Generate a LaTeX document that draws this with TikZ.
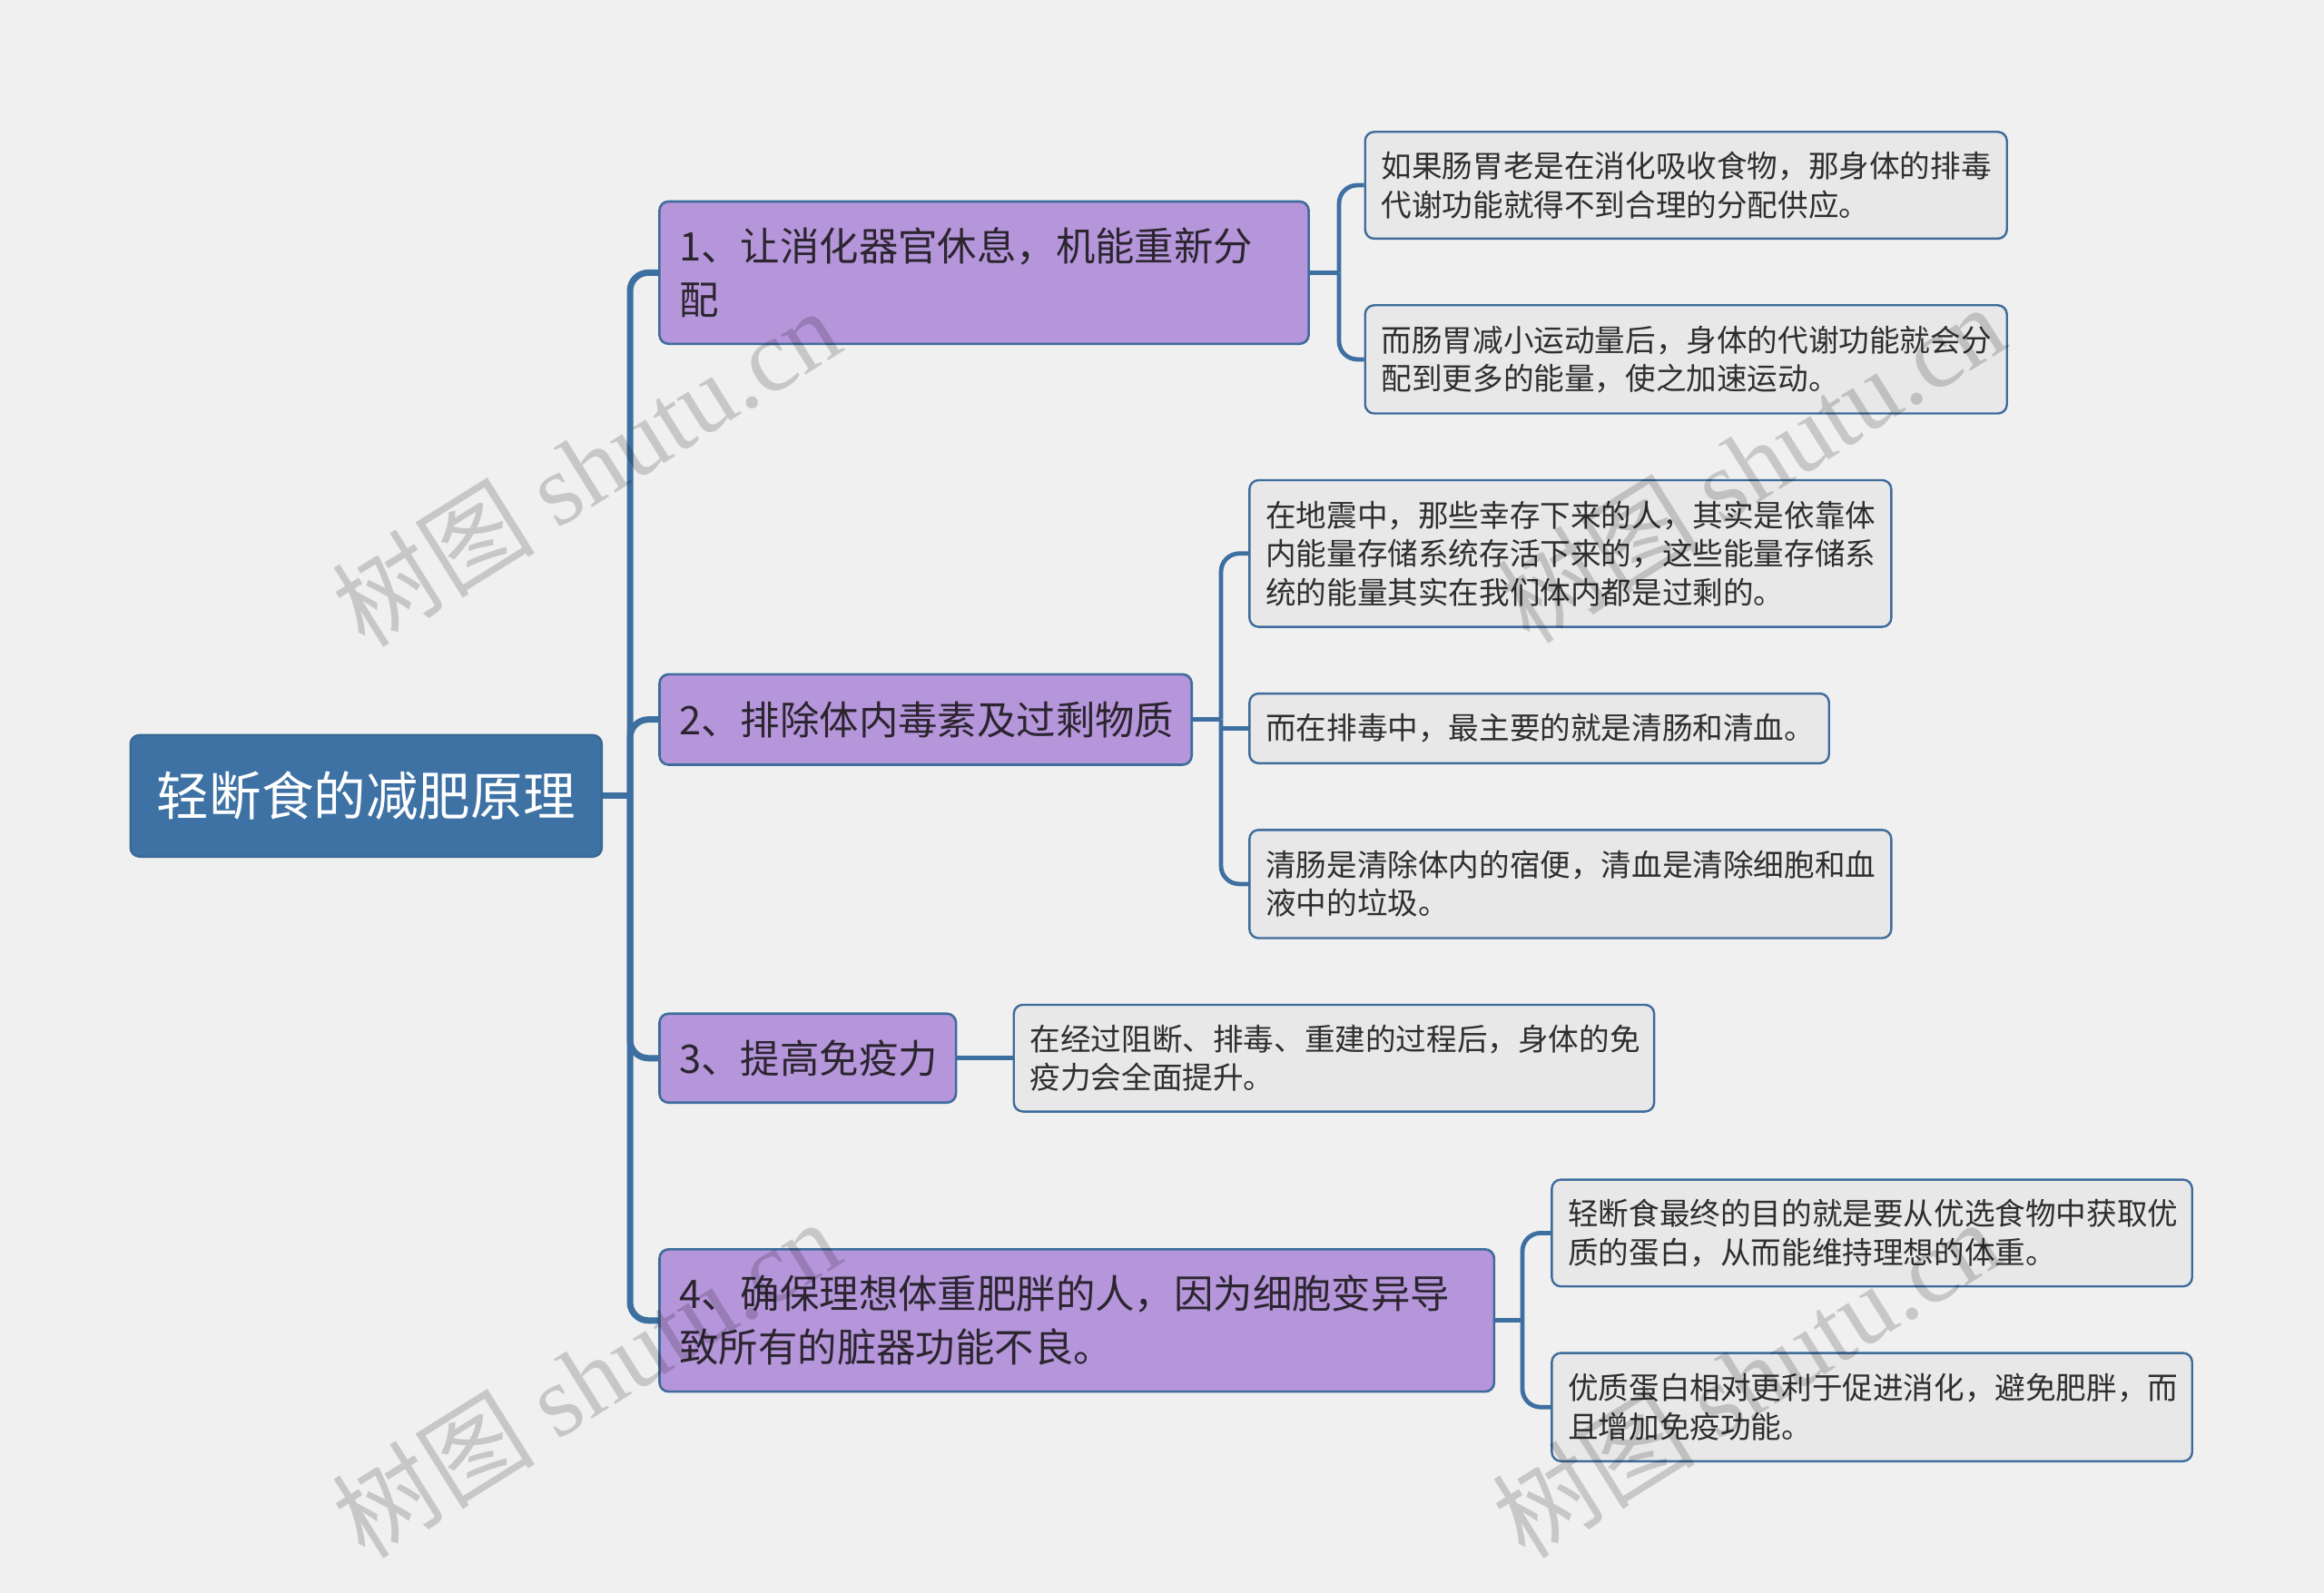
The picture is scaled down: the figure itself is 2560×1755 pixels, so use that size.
\documentclass[tikz,border=0pt]{standalone}
\usepackage{fontspec}
\setmainfont{Noto Sans CJK SC}
\newfontfamily\wmlatin{Liberation Serif}
\usetikzlibrary{calc}

\definecolor{bgc}{HTML}{F0F0F0}
\definecolor{rootfill}{HTML}{3E72A4}
\definecolor{rootdraw}{HTML}{386896}
\definecolor{purp}{HTML}{B696DA}
\definecolor{nodedraw}{HTML}{3E6C9C}
\definecolor{leaffill}{HTML}{E8E8E8}
\definecolor{conn}{HTML}{3D6FA1}
\definecolor{txtone}{HTML}{2B2530}
\definecolor{txttwo}{HTML}{2E2E2E}

\tikzset{
  rootbox/.style={draw=rootdraw, fill=rootfill, line width=1.2pt, rounded corners=5pt,
    text=white, font=\fontsize{28.8pt}{34pt}\selectfont, inner sep=0pt, align=center},
  topicbox/.style={draw=nodedraw, fill=purp, line width=1.3pt, rounded corners=5pt,
    text=txtone, font=\fontsize{21.7pt}{29.4pt}\selectfont, inner xsep=11pt, inner ysep=0pt, align=left},
  leafbox/.style={draw=nodedraw, fill=leaffill, line width=1.2pt, rounded corners=5pt,
    text=txttwo, font=\fontsize{16.8pt}{21.2pt}\selectfont, inner xsep=9pt, inner ysep=0pt, align=left},
  wireone/.style={draw=conn, line width=3.5pt},
  wiretwo/.style={draw=conn, line width=2.4pt},
  wm/.style={text=black, text opacity=0.17, rotate=32, inner sep=0pt,
    font=\fontsize{56pt}{60pt}\selectfont}
}

\begin{document}
\begin{tikzpicture}[x=0.5pt,y=-0.5pt]
\fill[bgc] (0,0) rectangle (2560,1755);
\useasboundingbox (0,0) rectangle (2560,1755);

% branch x positions
\coordinate (t0) at (694,0);
\coordinate (b1) at (1475,0);
\coordinate (b2) at (1345,0);
\coordinate (b4) at (1677,0);

% root
\node[rootbox, minimum width=259.6pt, minimum height=67pt] (root) at (403.3,876.8) {轻断食的减肥原理};

% level 1
\node[topicbox, minimum height=78.4pt, text width=335.6pt] (n1) at (1084,300.4) {1、让消化器官休息，机能重新分\\配};
\node[topicbox, minimum height=49.8pt, text width=271.1pt] (n2) at (1019.6,792.7) {2、排除体内毒素及过剩物质};
\node[topicbox, minimum height=49pt, text width=141.3pt] (n3) at (889.75,1165.75) {3、提高免疫力};
\node[topicbox, minimum height=78.4pt, text width=437.7pt] (n4) at (1186.15,1454.75) {4、确保理想体重肥胖的人，因为细胞变异导\\致所有的脏器功能不良。};

% level 2
\node[leafbox, minimum height=58.8pt, text width=335.5pt] (l1a) at (1857.2,204.1) {如果肠胃老是在消化吸收食物，那身体的排毒\\代谢功能就得不到合理的分配供应。};
\node[leafbox, minimum height=59.6pt, text width=335.5pt] (l1b) at (1857.2,395.9) {而肠胃减小运动量后，身体的代谢功能就会分\\配到更多的能量，使之加速运动。};
\node[leafbox, minimum height=80.8pt, text width=335.5pt] (l2a) at (1729.85,609.8) {在地震中，那些幸存下来的人，其实是依靠体\\内能量存储系统存活下来的，这些能量存储系\\统的能量其实在我们体内都是过剩的。};
\node[leafbox, minimum height=38.4pt, text width=301.2pt] (l2b) at (1695.55,802.45) {而在排毒中，最主要的就是清肠和清血。};
\node[leafbox, minimum height=59.6pt, text width=335.5pt] (l2c) at (1729.85,973.9) {清肠是清除体内的宿便，清血是清除细胞和血\\液中的垃圾。};
\node[leafbox, minimum height=58.8pt, text width=334.7pt] (l3a) at (1469.45,1165.75) {在经过阻断、排毒、重建的过程后，身体的免\\疫力会全面提升。};
\node[leafbox, minimum height=58.8pt, text width=334.7pt] (l4a) at (2062.05,1358.4) {轻断食最终的目的就是要从优选食物中获取优\\质的蛋白，从而能维持理想的体重。};
\node[leafbox, minimum height=59.6pt, text width=334.7pt] (l4b) at (2062.05,1550.2) {优质蛋白相对更利于促进消化，避免肥胖，而\\且增加免疫功能。};

% root connectors
\draw[wireone] (root.east) -- (root.east -| t0);
\foreach \n in {n1,n2,n3,n4}{
  \draw[wireone, rounded corners=10pt] (root.east -| t0) |- (\n.west);
}

% n1 connectors
\draw[wiretwo] (n1.east) -- (n1.east -| b1);
\draw[wiretwo, rounded corners=10pt] (n1.east -| b1) |- (l1a.west);
\draw[wiretwo, rounded corners=10pt] (n1.east -| b1) |- (l1b.west);

% n2 connectors
\draw[wiretwo] (n2.east) -- (n2.east -| b2);
\draw[wiretwo, rounded corners=10pt] (n2.east -| b2) |- (l2a.west);
\draw[wiretwo, rounded corners=10pt] (n2.east -| b2) |- (l2c.west);
\draw[wiretwo] (l2b.west -| b2) -- (l2b.west);

% n3 connector
\draw[wiretwo] (n3.east) -- (l3a.west);

% n4 connectors
\draw[wiretwo] (n4.east) -- (n4.east -| b4);
\draw[wiretwo, rounded corners=10pt] (n4.east -| b4) |- (l4a.west);
\draw[wiretwo, rounded corners=10pt] (n4.east -| b4) |- (l4b.west);

% watermarks
\node[wm] (wm1) at (645,514) {树图 {\wmlatin shutu.cn}};
\node[wm] (wm2) at (645,1518) {树图 {\wmlatin shutu.cn}};
\node[wm] (wm3) at (1928,510) {树图 {\wmlatin shutu.cn}};
\node[wm] (wm4) at (1923,1518) {树图 {\wmlatin shutu.cn}};
\end{tikzpicture}
\end{document}
